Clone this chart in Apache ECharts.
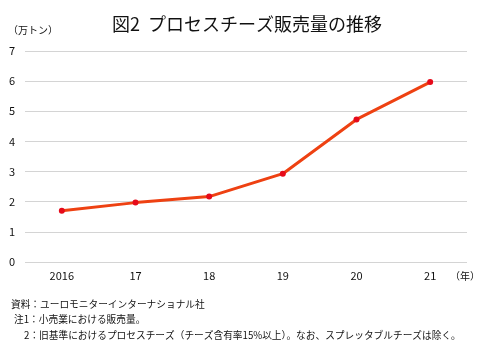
<!DOCTYPE html>
<html><head><meta charset="utf-8">
<script src="https://cdn.jsdelivr.net/npm/echarts@6/dist/echarts.min.js"></script>
<style>html,body{margin:0;padding:0;background:#fff}#c{width:494px;height:355px}</style>
</head><body><div id="c"></div>
<script>
const categories = ['2016', '17', '18', '19', '20', '21'];
const sales = [1.70, 1.97, 2.17, 2.93, 4.73, 5.97];
const yTicks = [0, 1, 2, 3, 4, 5, 6, 7];
const titleText = '図2  プロセスチーズ販売量の推移';
const unitText = '（万トン）';
const yearText = '（年）';
const notes = [
  '資料：ユーロモニターインターナショナル社',
  '注1：小売業における販売量。',
  '2：旧基準におけるプロセスチーズ（チーズ含有率15%以上）。なお、スプレッタブルチーズは除く。'
];
const FONT = '"Noto Sans CJK JP", "Noto Sans", sans-serif';
const chart = echarts.init(document.getElementById('c'), null, {renderer: 'canvas'});
chart.setOption({
  backgroundColor: '#fff',
  animation: false,
  textStyle: {fontFamily: FONT},
  title: {text: titleText, left: 242, top: 10, textAlign: 'center',
    textStyle: {fontSize: 18, fontWeight: 'normal', color: '#111', fontFamily: FONT}},
  grid: {left: 25, right: 27, top: 51, bottom: 93, containLabel: false},
  xAxis: {type: 'category', data: categories, boundaryGap: true,
    axisLine: {show: false}, axisTick: {show: false},
    axisLabel: {color: '#111', fontSize: 11, margin: 8, fontFamily: FONT}},
  yAxis: {type: 'value', min: yTicks[0], max: yTicks[yTicks.length - 1], interval: 1,
    axisLine: {show: false}, axisTick: {show: false},
    splitLine: {lineStyle: {color: '#d4d4d4', width: 1}},
    axisLabel: {color: '#111', fontSize: 11, margin: 10, fontFamily: FONT}},
  graphic: [
    {type: 'text', left: 8, top: 25, style: {text: unitText, fontSize: 10, fill: '#111', fontFamily: FONT}},
    {type: 'text', left: 450, top: 271, style: {text: yearText, fontSize: 10, fill: '#111', fontFamily: FONT}},
    {type: 'text', left: 11, top: 299, style: {text: notes[0], fontSize: 9.7, fill: '#111', fontFamily: FONT}},
    {type: 'text', left: 14, top: 314, style: {text: notes[1], fontSize: 9.7, fill: '#111', fontFamily: FONT}},
    {type: 'text', left: 24, top: 330, style: {text: notes[2], fontSize: 9.7, fill: '#111', fontFamily: FONT}}
  ],
  series: [{type: 'line', data: sales, symbol: 'circle', symbolSize: 6,
    lineStyle: {color: '#EE4112', width: 3},
    itemStyle: {color: '#E60A1A'}}]
});
</script></body></html>
